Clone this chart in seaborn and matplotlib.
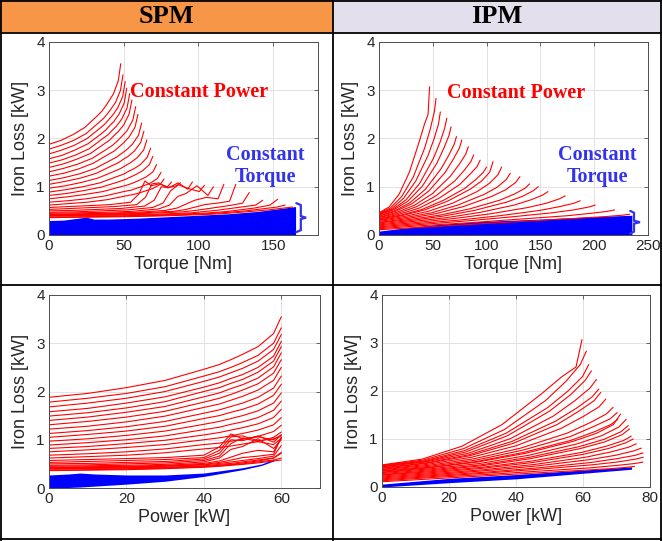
import numpy as np
import pandas as pd
import matplotlib
matplotlib.use("Agg")
import matplotlib.pyplot as plt
import seaborn as sns
from matplotlib.lines import Line2D
from matplotlib.patches import Rectangle

# ---------------- SPM data (constant-power curves, all end at rated power) -------------
spm_rated_power = 60.0
spm_power_grid = [0, 10, 20, 30, 40, 44, 47, 50, 54, 58, 60]
spm_torque_end = [48, 49.5, 51, 52, 54, 55.5, 58, 59.5, 62, 63.5, 65.5, 68, 69.5, 72,
                  75, 77, 82, 88, 96, 104, 110, 117, 125, 134, 143, 153, 158, 163]
spm_loss = [
    [1.88, 1.96, 2.08, 2.23, 2.46, 2.56, 2.66, 2.77, 2.93, 3.20, 3.55],
    [1.78, 1.86, 1.96, 2.10, 2.32, 2.41, 2.50, 2.60, 2.75, 3.00, 3.32],
    [1.68, 1.76, 1.86, 2.00, 2.21, 2.30, 2.39, 2.48, 2.63, 2.87, 3.18],
    [1.58, 1.65, 1.76, 1.89, 2.09, 2.18, 2.27, 2.35, 2.50, 2.73, 3.04],
    [1.49, 1.56, 1.66, 1.79, 2.00, 2.08, 2.17, 2.25, 2.40, 2.63, 2.93],
    [1.40, 1.47, 1.57, 1.69, 1.89, 1.97, 2.06, 2.14, 2.28, 2.51, 2.80],
    [1.31, 1.38, 1.47, 1.59, 1.78, 1.86, 1.94, 2.03, 2.16, 2.38, 2.66],
    [1.22, 1.28, 1.37, 1.49, 1.67, 1.74, 1.82, 1.90, 2.03, 2.23, 2.50],
    [1.13, 1.19, 1.27, 1.38, 1.55, 1.62, 1.69, 1.76, 1.88, 2.07, 2.32],
    [1.05, 1.11, 1.18, 1.28, 1.44, 1.50, 1.57, 1.63, 1.74, 1.92, 2.15],
    [0.97, 1.02, 1.09, 1.18, 1.32, 1.38, 1.44, 1.50, 1.60, 1.76, 1.97],
    [0.89, 0.94, 1.00, 1.08, 1.21, 1.26, 1.32, 1.37, 1.46, 1.61, 1.80],
    [0.82, 0.86, 0.92, 0.99, 1.10, 1.15, 1.20, 1.25, 1.33, 1.46, 1.63],
    [0.75, 0.79, 0.84, 0.90, 1.00, 1.04, 1.08, 1.13, 1.20, 1.31, 1.46],
    [0.68, 0.71, 0.75, 0.81, 0.90, 0.93, 0.97, 1.01, 1.07, 1.17, 1.30],
    [0.62, 0.65, 0.68, 0.73, 0.81, 0.84, 0.87, 0.91, 0.96, 1.05, 1.16],
    [0.57, 0.59, 0.61, 0.63, 0.68, 0.85, 1.12, 1.02, 1.06, 1.00, 1.10],
    [0.53, 0.55, 0.57, 0.59, 0.63, 0.78, 1.06, 1.08, 0.98, 1.02, 1.08],
    [0.50, 0.51, 0.53, 0.55, 0.60, 0.72, 1.00, 0.98, 1.08, 0.95, 1.10],
    [0.47, 0.48, 0.50, 0.52, 0.57, 0.66, 0.92, 1.04, 0.96, 0.90, 1.03],
    [0.45, 0.46, 0.47, 0.49, 0.54, 0.62, 0.80, 0.86, 1.02, 0.82, 1.00],
    [0.43, 0.44, 0.45, 0.47, 0.51, 0.56, 0.64, 0.72, 0.78, 0.75, 1.05],
    [0.42, 0.43, 0.44, 0.46, 0.49, 0.53, 0.58, 0.63, 0.66, 0.70, 1.05],
    [0.41, 0.42, 0.43, 0.45, 0.48, 0.51, 0.54, 0.57, 0.61, 0.66, 0.88],
    [0.40, 0.41, 0.42, 0.43, 0.46, 0.49, 0.51, 0.54, 0.58, 0.62, 0.72],
    [0.39, 0.40, 0.40, 0.42, 0.45, 0.47, 0.49, 0.52, 0.56, 0.62, 0.74],
    [0.37, 0.38, 0.39, 0.41, 0.44, 0.46, 0.48, 0.50, 0.54, 0.58, 0.62],
    [0.36, 0.37, 0.38, 0.40, 0.43, 0.45, 0.47, 0.49, 0.52, 0.56, 0.58],
]
# SPM constant-torque (blue) region
spm_ct_torque = [0, 10, 20, 25, 30, 40, 60, 80, 100, 120, 140, 165]
spm_ct_loss_top = [0.30, 0.31, 0.35, 0.37, 0.33, 0.33, 0.35, 0.38, 0.41, 0.44, 0.49, 0.59]
spm_ct_power = [0, 5, 8, 12, 20, 30, 40, 50, 55, 58]
spm_ct_power_hi = [0.27, 0.29, 0.31, 0.29, 0.27, 0.27, 0.31, 0.42, 0.50, 0.60]
spm_ct_power_lo = [0.0, 0.01, 0.02, 0.04, 0.08, 0.14, 0.24, 0.38, 0.47, 0.56]

# ---------------- IPM data ---------------------------------------------------------------
ipm_frac_grid = [0, 0.2, 0.4, 0.6, 0.8, 0.9, 0.97, 1.0]   # fraction of max torque
ipm_torque_end = [47, 53, 57, 63, 67, 72, 77, 83, 88, 94, 100, 106, 114, 122, 131,
                  140, 148, 157, 173, 187, 201, 219, 233]
ipm_power_end = [59.7, 61, 61.7, 62.5, 64, 64.7, 65.3, 66.8, 69, 70.2, 70.4, 71.2, 72.9,
                 73.5, 73.9, 74.4, 75, 75.9, 77.4, 77.9, 78, 77.9, 75.4]
ipm_loss = [
    [0.46, 0.58, 0.85, 1.30, 1.95, 2.30, 2.50, 3.07],
    [0.45, 0.56, 0.80, 1.20, 1.80, 2.20, 2.55, 2.83],
    [0.44, 0.54, 0.76, 1.12, 1.65, 2.00, 2.30, 2.55],
    [0.43, 0.53, 0.73, 1.07, 1.58, 1.92, 2.22, 2.42],
    [0.42, 0.52, 0.70, 1.01, 1.48, 1.80, 2.06, 2.24],
    [0.40, 0.50, 0.67, 0.95, 1.37, 1.65, 1.88, 2.04],
    [0.39, 0.49, 0.65, 0.91, 1.30, 1.58, 1.80, 1.97],
    [0.37, 0.47, 0.62, 0.86, 1.22, 1.47, 1.67, 1.83],
    [0.36, 0.45, 0.59, 0.81, 1.12, 1.34, 1.52, 1.66],
    [0.34, 0.43, 0.56, 0.77, 1.05, 1.26, 1.42, 1.55],
    [0.33, 0.41, 0.53, 0.72, 0.97, 1.15, 1.30, 1.41],
    [0.31, 0.40, 0.52, 0.70, 0.95, 1.12, 1.30, 1.52],
    [0.30, 0.38, 0.49, 0.66, 0.90, 1.07, 1.25, 1.41],
    [0.28, 0.36, 0.46, 0.62, 0.84, 0.99, 1.15, 1.28],
    [0.26, 0.34, 0.44, 0.59, 0.80, 0.94, 1.09, 1.21],
    [0.25, 0.32, 0.41, 0.54, 0.72, 0.85, 0.97, 1.06],
    [0.23, 0.30, 0.39, 0.51, 0.68, 0.80, 0.92, 1.00],
    [0.21, 0.28, 0.36, 0.47, 0.62, 0.73, 0.83, 0.90],
    [0.19, 0.26, 0.34, 0.44, 0.57, 0.66, 0.75, 0.81],
    [0.17, 0.24, 0.31, 0.40, 0.51, 0.59, 0.66, 0.71],
    [0.15, 0.22, 0.29, 0.37, 0.46, 0.52, 0.58, 0.62],
    [0.13, 0.20, 0.26, 0.33, 0.40, 0.45, 0.49, 0.52],
    [0.11, 0.17, 0.23, 0.29, 0.35, 0.38, 0.41, 0.43],
]
ipm_ct_torque = [0, 25, 50, 94, 150, 200, 235]
ipm_ct_loss_top = [0.08, 0.15, 0.21, 0.28, 0.33, 0.38, 0.41]
ipm_ct_power = [0, 20, 40, 74.5]
ipm_ct_power_hi = [0.06, 0.18, 0.26, 0.42]
ipm_ct_power_lo = [0.0, 0.09, 0.17, 0.37]

headers = ["SPM", "IPM"]

# ---------------- tidy tables ----------------------------------------------------------
rows = []
for i, (tend, losses) in enumerate(zip(spm_torque_end, spm_loss)):
    for p, l in zip(spm_power_grid, losses):
        rows.append(dict(curve=i, torque=p / spm_rated_power * tend, power=p, loss=l))
spm_df = pd.DataFrame(rows)

rows = []
for i, (tend, pend, losses) in enumerate(zip(ipm_torque_end, ipm_power_end, ipm_loss)):
    for f, l in zip(ipm_frac_grid, losses):
        rows.append(dict(curve=i, torque=f * tend, power=f * pend, loss=l))
ipm_df = pd.DataFrame(rows)

# ---------------- style -----------------------------------------------------------------
sns.set_theme(style="whitegrid")
plt.rcParams['font.family'] = ['Liberation Sans', 'DejaVu Sans']

W, H = 662, 541
fig = plt.figure(figsize=(W / 100, H / 100), dpi=100)
fig.patch.set_facecolor('white')

def rect(l, r, t, b):
    return [l / W, 1 - b / H, (r - l) / W, (b - t) / H]

ax_tl = fig.add_axes(rect(49, 318, 42, 235))
ax_tr = fig.add_axes(rect(379, 648, 42, 235))
ax_bl = fig.add_axes(rect(49, 320, 295, 488))
ax_br = fig.add_axes(rect(382, 650, 295, 487))

RED = '#ff0000'
BLUE = '#0000ff'

def style(ax, xlim, xticks, xlabel):
    ax.set_xlim(*xlim)
    ax.set_ylim(0, 4)
    ax.set_xticks(xticks)
    ax.set_yticks([0, 1, 2, 3, 4])
    ax.set_facecolor('white')
    ax.grid(True, color='#e2e2e2', lw=0.7)
    ax.set_axisbelow(True)
    for s in ax.spines.values():
        s.set_visible(True)
        s.set_color('#4d4d4d')
        s.set_linewidth(0.7)
    ax.tick_params(direction='in', length=3, width=0.6, color='#4d4d4d', labelsize=11,
                   labelcolor='#262626', top=True, right=True, pad=3)
    ax.set_xlabel(xlabel, fontsize=13, color='#262626', labelpad=2)
    ax.set_ylabel('Iron Loss [kW]', fontsize=13, color='#262626', labelpad=5)

# blue constant-torque regions
ax_tl.fill_between(spm_ct_torque, 0, spm_ct_loss_top, color=BLUE, lw=0)
ax_bl.fill_between(spm_ct_power, spm_ct_power_lo, spm_ct_power_hi, color=BLUE, lw=0)
ax_tr.fill_between(ipm_ct_torque, 0, ipm_ct_loss_top, color=BLUE, lw=0)
ax_br.fill_between(ipm_ct_power, ipm_ct_power_lo, ipm_ct_power_hi, color=BLUE, lw=0)

# red constant-power curves
for ax, df, x in [(ax_tl, spm_df, 'torque'), (ax_bl, spm_df, 'power'),
                  (ax_tr, ipm_df, 'torque'), (ax_br, ipm_df, 'power')]:
    sns.lineplot(data=df, x=x, y='loss', units='curve', estimator=None, sort=False,
                 color=RED, lw=0.8, ax=ax, legend=False)

style(ax_tl, (0, 180), [0, 50, 100, 150], 'Torque [Nm]')
style(ax_tr, (0, 250), [0, 50, 100, 150, 200, 250], 'Torque [Nm]')
style(ax_bl, (0, 70), [0, 20, 40, 60], 'Power [kW]')
style(ax_br, (0, 80), [0, 20, 40, 60, 80], 'Power [kW]')

# annotations
serif = ['Liberation Serif', 'DejaVu Serif']
ax_tl.text(54, 2.96, 'Constant Power', color=RED, fontsize=14.5, fontweight='bold',
           family=serif, ha='left', va='center')
ax_tr.text(63, 2.94, 'Constant Power', color=RED, fontsize=14.5, fontweight='bold',
           family=serif, ha='left', va='center')
ax_tl.text(145, 1.43, 'Constant\nTorque', color='#3333ee', fontsize=14.5, fontweight='bold',
           family=serif, ha='center', va='center', linespacing=1.15)
ax_tr.text(203, 1.43, 'Constant\nTorque', color='#3333ee', fontsize=14.5, fontweight='bold',
           family=serif, ha='center', va='center', linespacing=1.15)

def brace(ax, x, top, bot, w_in, w_out):
    mid = (top + bot) / 2
    xs = [x - w_in, x, x, x + w_out, x, x, x - w_in]
    ys = [top, top - 0.04, mid + 0.03, mid, mid - 0.03, bot + 0.04, bot]
    ax.plot(xs, ys, color='#3333ee', lw=1.6, clip_on=False, solid_joinstyle='miter')

brace(ax_tl, 168.5, 0.66, 0.06, 3, 3.5)
brace(ax_tr, 237, 0.50, 0.03, 3.5, 5.5)

# table frame and header
fig.add_artist(Rectangle((0, 1 - 32 / H), 333 / W, 32 / H, transform=fig.transFigure,
                         facecolor='#f79646', edgecolor='none', zorder=0))
fig.add_artist(Rectangle((333 / W, 1 - 32 / H), 1 - 333 / W, 32 / H, transform=fig.transFigure,
                         facecolor='#e4dfec', edgecolor='none', zorder=0))
for label, xc in zip(headers, [166 / W, 497 / W]):
    fig.text(xc, 1 - 16.5 / H, label, fontsize=19, fontweight='bold', family=serif,
             ha='center', va='center', color='black')

def hline(y):
    fig.add_artist(Line2D([0, 1], [1 - y / H, 1 - y / H], transform=fig.transFigure,
                          color='black', lw=1.3))

def vline(x):
    fig.add_artist(Line2D([x / W, x / W], [0, 1], transform=fig.transFigure,
                          color='black', lw=1.3))

hline(0.6)
hline(32.5)
hline(285)
hline(538.5)
vline(0.8)
vline(333)
vline(660.8)

fig.savefig('out.png', dpi=100)
